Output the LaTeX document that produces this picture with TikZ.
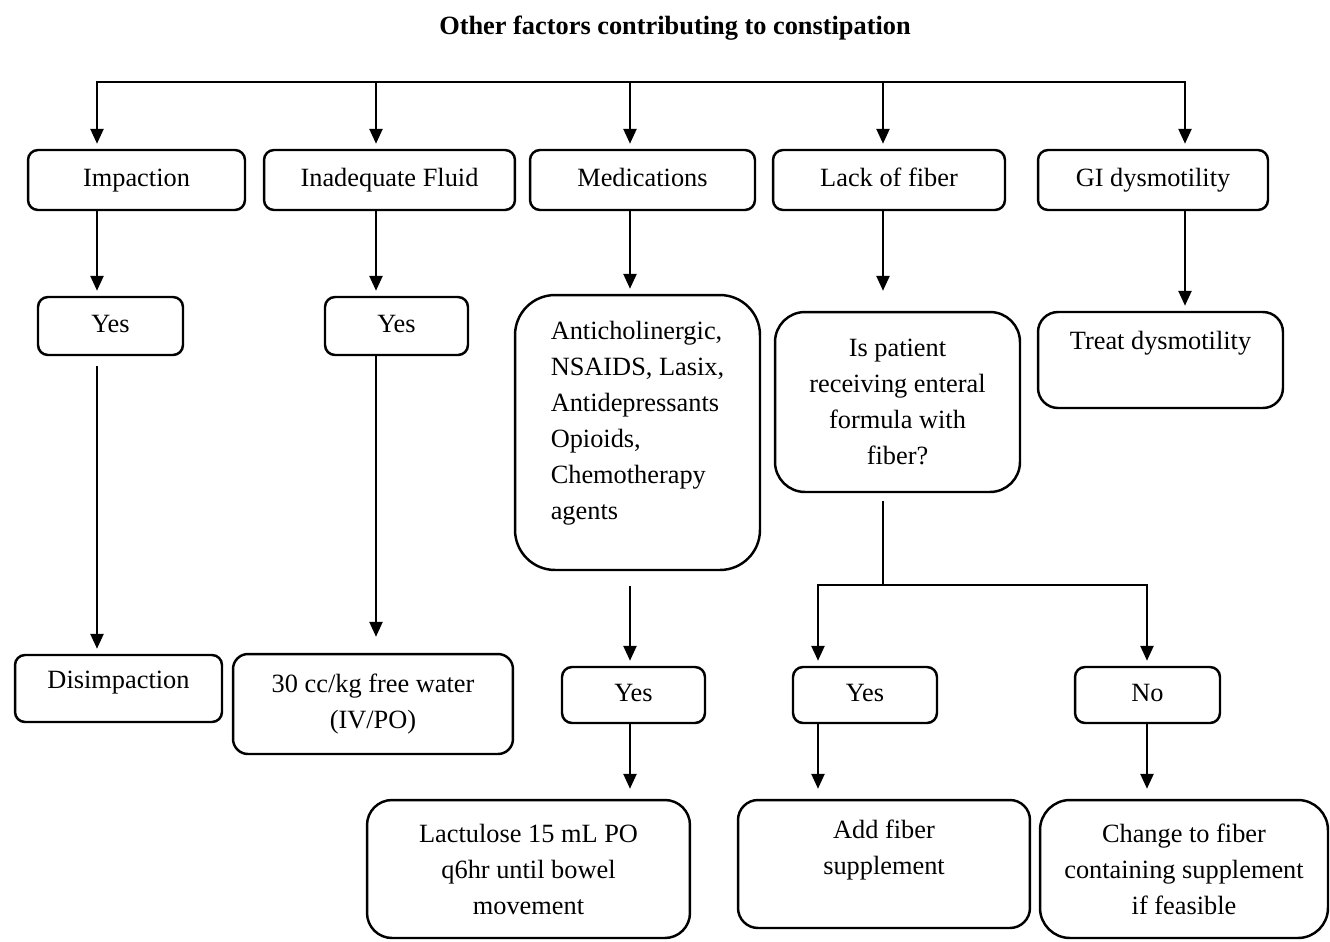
\documentclass[tikz,border=0pt]{standalone}
\usepackage{fontspec}
\setmainfont{Liberation Serif}
\usetikzlibrary{arrows.meta}

\begin{document}
\begin{tikzpicture}[x=0.02cm,y=-0.02cm,
    font=\fontsize{15}{20.5}\selectfont,
    line width=1.4pt,
    box/.style={draw,rounded corners=#1,align=center,inner sep=2pt},
    box/.default=0.2cm,
    one/.style={text height=11pt,text depth=3.5pt},
    arr/.style={-{Triangle[length=0.3cm,width=0.26cm]},shorten >=0.1cm}]
    \useasboundingbox (0,0) rectangle (1330,941);
    \node[font=\fontsize{15}{18}\selectfont\bfseries] (title) at (675,28) {Other factors contributing to constipation};
    % first row
    \node[box,one,minimum width=4.34cm,minimum height=1.2cm] (imp) at (136.5,180) {Impaction};
    \node[box,one,minimum width=5.02cm,minimum height=1.2cm] (fluid) at (389.5,180) {Inadequate Fluid};
    \node[box,one,minimum width=4.5cm,minimum height=1.2cm] (med) at (642.5,180) {Medications};
    \node[box,one,minimum width=4.64cm,minimum height=1.2cm] (fib) at (889,180) {Lack of fiber};
    \node[box,one,minimum width=4.6cm,minimum height=1.2cm] (gi) at (1153,180) {GI dysmotility};
    % second row
    \node[box,one,minimum width=2.9cm,minimum height=1.16cm] (yimp) at (110.5,326) {Yes};
    \node[box,one,minimum width=2.86cm,minimum height=1.16cm] (yfl) at (396.5,326) {Yes};
    \node[box=0.8cm,align=left,text depth=0.48cm,minimum width=4.9cm,minimum height=5.5cm] (drugs) at (637.5,432.5)
        {Anticholinergic,\\NSAIDS, Lasix,\\Antidepressants\\Opioids,\\Chemotherapy\\agents};
    \node[box=0.6cm,minimum width=4.9cm,minimum height=3.6cm] (ask) at (897.5,402)
        {Is patient\\receiving enteral\\formula with\\fiber?};
    \node[box=0.4cm,text depth=0.8cm,minimum width=4.9cm,minimum height=1.92cm] (treat) at (1160.5,360) {Treat dysmotility};
    % third row
    \node[box,text depth=0.36cm,minimum width=4.14cm,minimum height=1.34cm] (disimp) at (118.5,688.5) {Disimpaction};
    \node[box=0.3cm,minimum width=5.6cm,minimum height=2cm] (water) at (373,704) {30 cc/kg free water\\(IV/PO)};
    \node[box,one,minimum width=2.86cm,minimum height=1.12cm] (ymed) at (633.5,695) {Yes};
    \node[box,one,minimum width=2.88cm,minimum height=1.12cm] (yfib) at (865,695) {Yes};
    \node[box,one,minimum width=2.9cm,minimum height=1.12cm] (nfib) at (1147.5,695) {No};
    % last row
    \node[box=0.5cm,minimum width=6.46cm,minimum height=2.76cm] (lact) at (528.5,869)
        {Lactulose 15 mL PO\\q6hr until bowel\\movement};
    \node[box=0.4cm,text depth=0.68cm,minimum width=5.84cm,minimum height=2.56cm] (add) at (884,864)
        {Add fiber\\supplement};
    \node[box=0.6cm,minimum width=5.76cm,minimum height=2.76cm] (change) at (1184,869)
        {Change to fiber\\containing supplement\\if feasible};
    % top bus
    \coordinate (c1) at (97,82);
    \coordinate (c2) at (376,82);
    \coordinate (c3) at (630,82);
    \coordinate (c4) at (883,82);
    \coordinate (c5) at (1185,82);
    \draw[arr] (c2) -- (c1) -- (imp.north -| c1);
    \draw[arr] (c4) -- (c5) -- (gi.north -| c5);
    \draw (c2) -- (c4);
    \foreach \c/\n in {c2/fluid,c3/med,c4/fib}
        \draw[arr] (\c) -- (\n.north -| \c);
    % columns
    \draw[arr] (imp.south -| c1) -- (yimp.north -| c1);
    \draw[arr,shorten <=0.2cm] (yimp.south -| c1) -- (disimp.north -| c1);
    \draw[arr] (fluid.south -| c2) -- (yfl.north -| c2);
    \draw[arr,shorten >=0.32cm] (yfl.south -| c2) -- (water.north -| c2);
    \draw[arr] (med.south -| c3) -- (drugs.north -| c3);
    \draw[arr,shorten <=0.3cm] (drugs.south -| c3) -- (ymed.north -| c3);
    \draw[arr,shorten >=0.2cm] (ymed.south -| c3) -- (lact.north -| c3);
    \draw[arr,shorten >=0.4cm] (fib.south -| c4) -- (ask.north -| c4);
    \draw[arr] (gi.south -| c5) -- (treat.north -| c5);
    % fiber split
    \coordinate (sp) at (883,585);
    \coordinate (sy) at (818,585);
    \coordinate (sn) at (1147,585);
    \draw[shorten <=0.16cm] (ask.south -| c4) -- (sp);
    \draw[arr] (sp) -- (sy) -- (yfib.north -| sy);
    \draw[arr] (sp) -- (sn) -- (nfib.north -| sn);
    \draw[arr,shorten >=0.2cm] (yfib.south -| sy) -- (add.north -| sy);
    \draw[arr,shorten >=0.2cm] (nfib.south -| sn) -- (change.north -| sn);
\end{tikzpicture}
\end{document}
